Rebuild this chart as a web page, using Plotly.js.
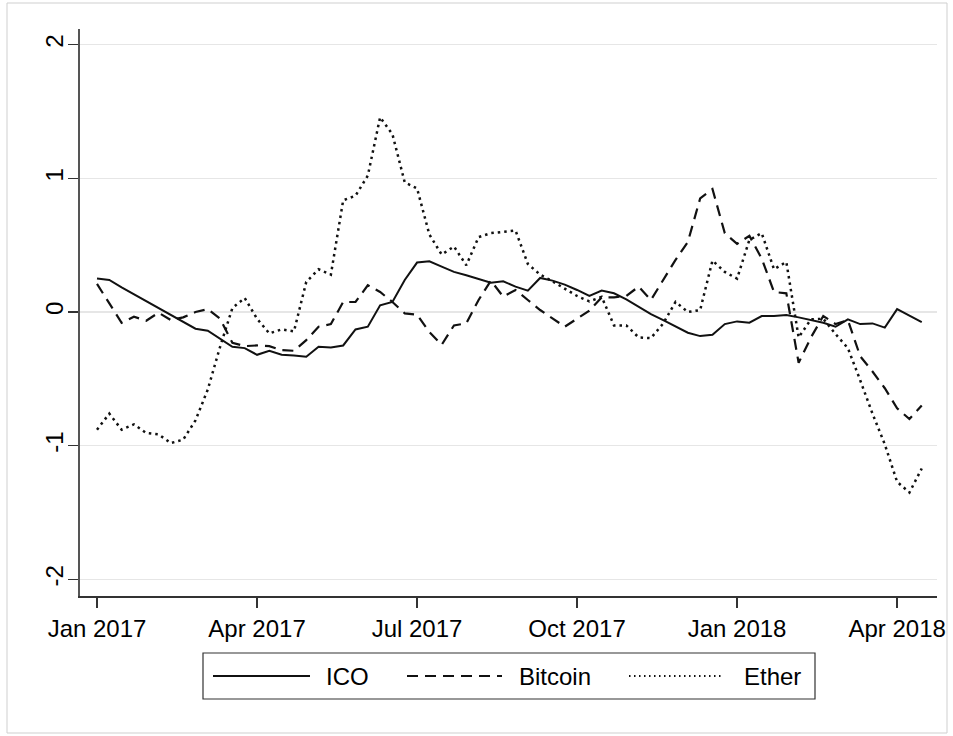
<!DOCTYPE html>
<html>
<head>
<meta charset="utf-8">
<script src="https://cdn.plot.ly/plotly-3.0.1.min.js"></script>
<style>
html, body { margin: 0; padding: 0; background: #ffffff; }
#chart { width: 953px; height: 736px; }
</style>
</head>
<body>
<div id="chart"></div>
<script>
// Weekly observations: week 0 = first week of Jan 2017
const weeks = [0,1,2,3,4,5,6,7,8,9,10,11,12,13,14,15,16,17,18,19,20,21,22,23,24,25,26,27,28,29,30,31,32,33,34,35,36,37,38,39,40,41,42,43,44,45,46,47,48,49,50,51,52,53,54,55,56,57,58,59,60,61,62,63,64,65,66,67];

const ico = [0.25, 0.24, 0.185, 0.133, 0.08, 0.03, -0.02, -0.07, -0.125, -0.14,
  -0.2, -0.26, -0.27, -0.32, -0.29, -0.32, -0.325, -0.335, -0.26, -0.265,
  -0.25, -0.13, -0.11, 0.05, 0.075, 0.24, 0.37, 0.38, 0.34, 0.30,
  0.275, 0.25, 0.22, 0.23, 0.19, 0.16, 0.255, 0.235, 0.205, 0.165,
  0.12, 0.16, 0.14, 0.095, 0.04, -0.015, -0.06, -0.11, -0.155, -0.18,
  -0.17, -0.09, -0.07, -0.08, -0.03, -0.03, -0.022, -0.04, -0.06, -0.08,
  -0.11, -0.055, -0.09, -0.085, -0.117, 0.022, -0.027, -0.075];

const bitcoin = [0.21, 0.065, -0.08, -0.035, -0.065, -0.005, -0.06, -0.04, 0.0, 0.022,
  -0.05, -0.23, -0.255, -0.25, -0.255, -0.285, -0.29, -0.21, -0.11, -0.09,
  0.075, 0.075, 0.2, 0.15, 0.075, -0.01, -0.02, -0.15, -0.245, -0.1,
  -0.085, 0.09, 0.235, 0.115, 0.165, 0.09, 0.015, -0.047, -0.11, -0.05,
  0.01, 0.11, 0.11, 0.12, 0.19, 0.09, 0.24, 0.39, 0.525, 0.85,
  0.92, 0.59, 0.51, 0.57, 0.4, 0.15, 0.14, -0.38, -0.19, -0.03,
  -0.09, -0.06, -0.33, -0.445, -0.57, -0.72, -0.8, -0.7];

const ether = [-0.88, -0.76, -0.88, -0.84, -0.905, -0.915, -0.98, -0.955, -0.81, -0.58,
  -0.26, 0.03, 0.105, -0.05, -0.16, -0.13, -0.145, 0.225, 0.32, 0.28,
  0.836, 0.87, 1.02, 1.457, 1.33, 0.97, 0.925, 0.58, 0.43, 0.49,
  0.35, 0.56, 0.59, 0.6, 0.61, 0.36, 0.28, 0.23, 0.177, 0.12,
  0.08, 0.113, -0.1, -0.1, -0.19, -0.195, -0.085, 0.076, 0.0, 0.015,
  0.385, 0.3, 0.25, 0.54, 0.59, 0.32, 0.375, -0.19, -0.055, -0.05,
  -0.165, -0.27, -0.51, -0.76, -0.99, -1.27, -1.35, -1.17];

const tickWeeks = [0, 13, 26, 39, 52, 65];
const tickLabels = ['Jan 2017', 'Apr 2017', 'Jul 2017', 'Oct 2017', 'Jan 2018', 'Apr 2018'];
const yTicks = [-2, -1, 0, 1, 2];
const seriesNames = ['ICO', 'Bitcoin', 'Ether'];

const FONT = 'Liberation Sans, Arial, sans-serif';
const LINE = '#111111';
const TXT = '#000000';
const DASH = '11px,7px';
const DOT = '2.5px,4px';

const traces = [
  {x: weeks, y: ico, name: seriesNames[0], type: 'scatter', mode: 'lines',
   line: {color: LINE, width: 2, dash: 'solid'}},
  {x: weeks, y: bitcoin, name: seriesNames[1], type: 'scatter', mode: 'lines',
   line: {color: LINE, width: 2.2, dash: DASH}},
  {x: weeks, y: ether, name: seriesNames[2], type: 'scatter', mode: 'lines',
   line: {color: LINE, width: 2.5, dash: DOT}}
];

// plot area: x 80..937 px, y 29..596 px
const px = v => (v - 80) / 857;
const py = v => (596 - v) / 567;
const legY = py(676);

const layout = {
  width: 953, height: 736,
  margin: {l: 80, r: 16, t: 29, b: 140, pad: 0},
  paper_bgcolor: '#ffffff', plot_bgcolor: '#ffffff',
  showlegend: false,
  font: {family: FONT, size: 24, color: TXT},
  xaxis: {
    range: [-1.381, 68.24],
    tickmode: 'array', tickvals: tickWeeks, ticktext: tickLabels,
    showgrid: false, zeroline: false,
    showline: true, linecolor: '#333', linewidth: 1.8,
    ticks: 'outside', ticklen: 10, tickwidth: 1.5, tickcolor: '#333',
    tickfont: {family: FONT, size: 24, color: TXT}
  },
  yaxis: {
    range: [-2.124, 2.117],
    tickmode: 'array', tickvals: yTicks, ticktext: yTicks.map(String),
    tickangle: -90,
    ticklabelstandoff: -4,
    showgrid: true, gridcolor: '#e6e6e6', gridwidth: 1.5,
    zeroline: false,
    showline: true, linecolor: '#555', linewidth: 1.8,
    ticks: 'outside', ticklen: 10, tickwidth: 1.5, tickcolor: '#333',
    tickfont: {family: FONT, size: 24, color: TXT}
  },
  shapes: [
    // outer graph region frame
    {type: 'rect', xref: 'paper', yref: 'paper', x0: px(7), x1: px(947), y0: py(733), y1: py(3),
     line: {color: '#cfcfcf', width: 1}, fillcolor: 'rgba(0,0,0,0)', layer: 'below'},
    // legend box
    {type: 'rect', xref: 'paper', yref: 'paper', x0: px(203), x1: px(815), y0: py(699), y1: py(653),
     line: {color: '#333', width: 1.2}, fillcolor: '#ffffff'},
    {type: 'line', xref: 'paper', yref: 'paper', x0: px(213), x1: px(310), y0: legY, y1: legY,
     line: {color: LINE, width: 2, dash: 'solid'}},
    {type: 'line', xref: 'paper', yref: 'paper', x0: px(407), x1: px(502), y0: legY, y1: legY,
     line: {color: LINE, width: 2.2, dash: DASH}},
    {type: 'line', xref: 'paper', yref: 'paper', x0: px(629), x1: px(723), y0: legY, y1: legY,
     line: {color: LINE, width: 2, dash: '1.5px,3.5px'}}
  ],
  annotations: [
    {xref: 'paper', yref: 'paper', x: px(324), y: legY, xanchor: 'left', yanchor: 'middle',
     text: seriesNames[0], showarrow: false, font: {family: FONT, size: 24, color: TXT}},
    {xref: 'paper', yref: 'paper', x: px(517), y: legY, xanchor: 'left', yanchor: 'middle',
     text: seriesNames[1], showarrow: false, font: {family: FONT, size: 24, color: TXT}},
    {xref: 'paper', yref: 'paper', x: px(742), y: legY, xanchor: 'left', yanchor: 'middle',
     text: seriesNames[2], showarrow: false, font: {family: FONT, size: 24, color: TXT}}
  ]
};

Plotly.newPlot('chart', traces, layout, {displayModeBar: false, staticPlot: true});
</script>
</body>
</html>
